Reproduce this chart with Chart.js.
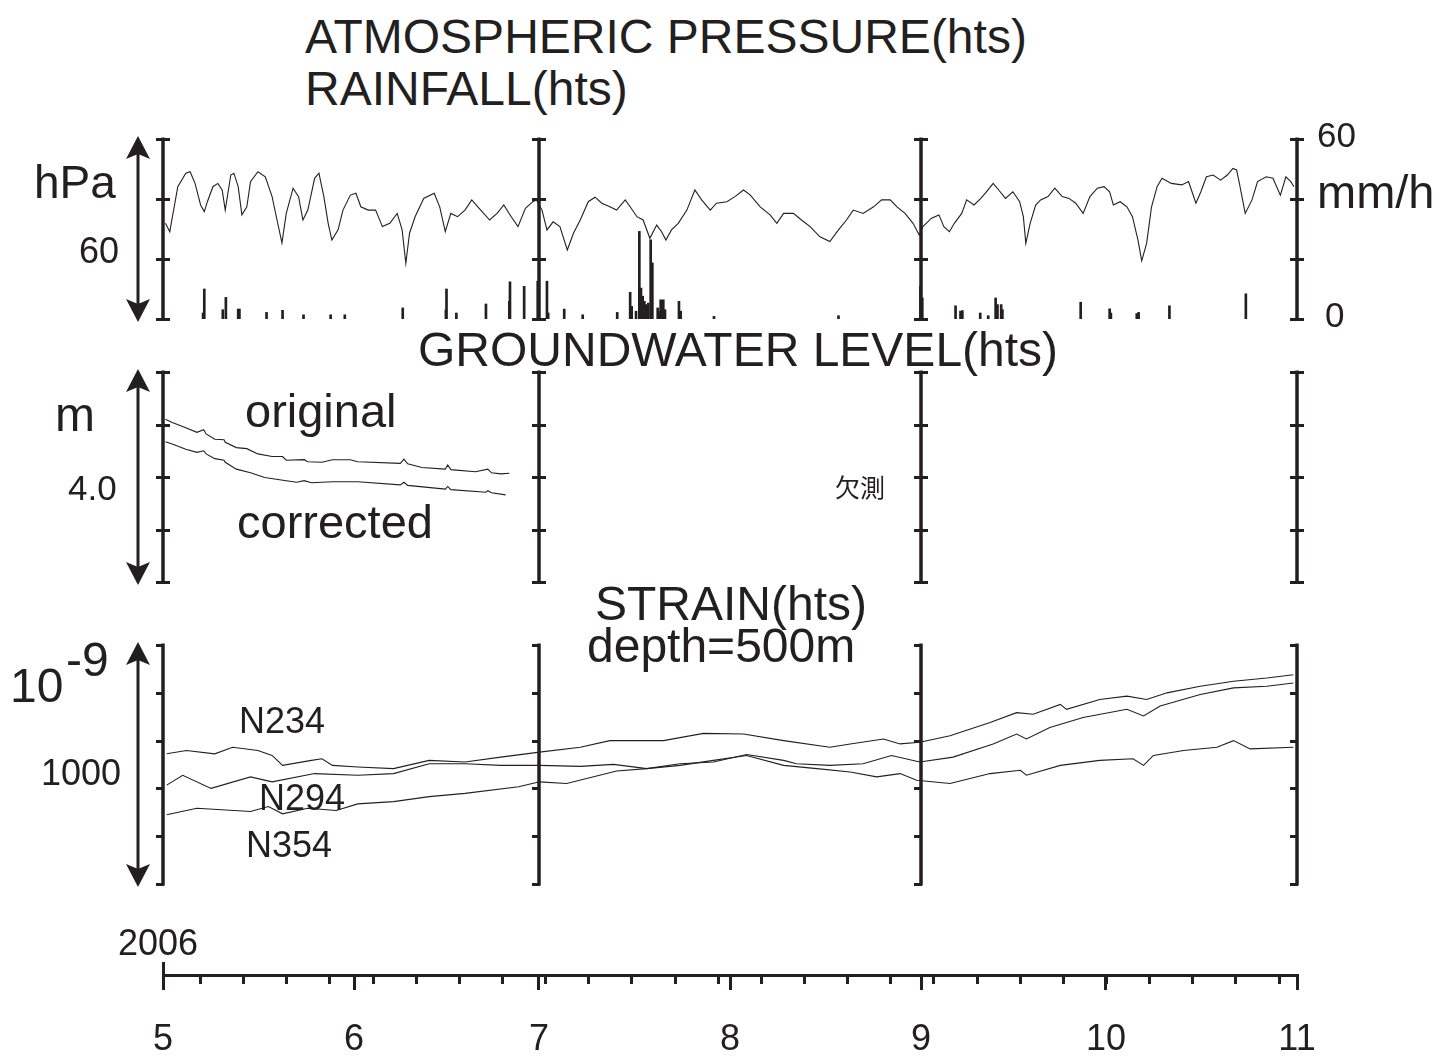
<!DOCTYPE html>
<html><head><meta charset="utf-8">
<title>Atmospheric pressure, rainfall, groundwater level and strain (2006)</title>
<script src="https://cdn.jsdelivr.net/npm/chart.js@4.4.1/dist/chart.umd.min.js"></script>
<style>
html,body{margin:0;padding:0;background:#fff}
#page{position:relative;width:1452px;height:1059px;overflow:hidden;font-family:"Liberation Sans",Arial,Helvetica,sans-serif;color:#231f20}
#page canvas{position:absolute;left:0}
.lbl{position:absolute;white-space:nowrap;line-height:1;color:#231f20}
</style></head><body><div id="page">
<canvas id="cPress" width="1452" height="230" style="top:115px"></canvas>
<canvas id="cWater" width="1452" height="255" style="top:350px"></canvas>
<canvas id="cStrain" width="1452" height="290" style="top:620px"></canvas>
<canvas id="cTime" width="1452" height="159" style="top:900px"></canvas>
</div>
<script>
// ---------- data (x values are days since 2006-05-01) ----------
const monthStartDays = [0, 31, 61, 92, 123, 153, 184];
const monthLabels = ['5', '6', '7', '8', '9', '10', '11'];
const weekTickDays = [6,13,20,27,34,41,48,55,62,69,76,83,90,97,104,111,118,125,132,139,146,153,160,167,174,181];
const panelDividerDays = [0, 61, 123, 184];

const pressureTicks = [980, 1000, 1020, 1040];
const rainTicks = [0, 20, 40, 60];
const waterTicks = [0, 1, 2, 3, 4];
const strainTicks = [0, 200, 400, 600, 800, 1000];

const pressureDays = [0.4,1.1,2.4,3.7,4.4,5.2,6.1,6.7,7.2,8.1,8.9,9.6,10.1,11.0,11.5,12.2,12.8,13.6,14.2,15.4,16.6,17.7,18.5,19.3,20.0,21.1,22.0,22.7,23.5,24.6,25.3,26.1,26.8,27.4,28.4,29.2,30.4,31.3,32.1,33.3,34.5,35.6,36.8,38.0,38.8,39.4,40.0,40.9,42.3,44.0,44.9,45.8,46.7,47.8,49.0,50.1,51.3,53.0,54.2,55.3,56.5,57.6,58.8,60.0,
 60.6,61.5,62.3,63.3,64.4,65.6,66.6,67.7,69.0,70.1,71.2,72.5,73.6,75.0,75.8,76.9,77.9,79.0,80.1,80.9,81.6,82.5,83.6,85.0,86.3,87.4,88.8,89.8,91.5,92.8,94.2,95.3,96.9,98.5,99.6,100.7,102.3,103.6,105.0,106.6,108.2,109.6,110.9,112.0,113.6,115.3,116.6,118.0,119.1,120.4,121.7,
 122.7,123.3,124.7,125.9,126.7,127.6,128.4,129.6,130.4,131.6,132.7,133.6,134.7,135.6,136.7,137.9,139.0,139.6,140.0,140.7,141.6,142.4,143.6,144.7,145.9,147.0,148.1,149.3,150.4,151.6,152.7,153.6,154.2,155.3,156.4,157.3,158.2,158.8,159.6,160.4,161.3,162.1,163.6,165.3,166.4,167.6,168.4,169.3,170.4,171.6,172.7,173.6,174.2,174.7,175.6,176.7,177.6,179.0,180.1,181.3,182.2,183.0,183.5];
const pressureHPa = [1011.9,1009.1,1024.1,1028.6,1029.1,1025.2,1018.0,1015.8,1019.1,1024.1,1025.2,1023.0,1016.3,1028.0,1028.6,1024.1,1014.7,1017.4,1025.8,1029.1,1027.4,1020.8,1013.0,1005.4,1015.2,1023.6,1020.8,1013.0,1016.3,1026.9,1028.6,1020.8,1011.9,1006.3,1009.7,1016.3,1021.3,1021.9,1017.4,1016.3,1016.3,1010.8,1011.9,1015.2,1009.7,998.6,1008.6,1014.1,1020.2,1021.9,1017.4,1009.1,1015.2,1014.1,1016.3,1019.7,1016.9,1013.0,1015.2,1018.0,1014.1,1010.8,1016.9,1019.1,
 1019.7,1016.3,1009.7,1012.4,1010.8,1003.0,1008.6,1013.0,1019.1,1020.6,1018.6,1017.4,1016.3,1019.7,1017.4,1014.1,1013.0,1006.9,1011.3,1009.1,1006.3,1009.7,1011.9,1016.3,1023.0,1019.7,1016.3,1018.6,1019.1,1020.8,1023.0,1021.3,1017.4,1014.7,1011.9,1015.2,1015.2,1013.0,1010.8,1007.4,1005.8,1009.7,1013.0,1016.3,1015.2,1017.4,1019.7,1019.7,1017.4,1015.2,1011.9,
 1008.0,1010.8,1013.6,1014.7,1010.8,1009.1,1011.9,1015.2,1019.7,1018.0,1020.2,1022.4,1025.2,1023.0,1020.2,1022.4,1019.1,1014.1,1005.2,1011.9,1018.0,1019.7,1020.8,1023.6,1020.8,1020.2,1018.6,1015.2,1020.8,1023.6,1024.1,1022.4,1018.0,1019.1,1017.4,1014.1,1006.3,999.4,1005.2,1017.4,1024.1,1026.9,1025.2,1024.7,1025.8,1018.6,1022.4,1027.4,1028.0,1026.3,1028.0,1030.2,1029.7,1024.7,1015.2,1019.7,1025.8,1027.4,1026.9,1021.3,1027.4,1025.8,1024.1];

const rainDays = [6.5,6.7,9.7,10.2,12.2,12.4,16.8,19.4,22.8,27.2,29.5,38.9,45.9,46.0,47.6,52.4,56.2,56.3,58.6,60.8,62.3,62.5,65.1,68.1,73.7,75.8,76.05,76.75,77.29,77.56,77.83,78.1,78.37,78.75,79.13,79.4,80.27,80.53,80.75,80.97,81.18,81.45,83.72,84.0,89.4,109.6,122.9,123.2,128.6,129.4,129.7,132.6,133.9,135.1,135.4,136.0,136.2,148.9,153.6,153.8,158.0,158.3,163.3,175.7];
const rainMmH = [2.0,10.0,3.1,7.2,3.3,3.3,2.2,2.9,1.4,1.4,1.4,3.7,3.0,10.0,2.0,5.0,5.9,12.4,10.9,12.6,12.6,2.0,3.3,1.4,2.2,8.9,4.2,2.6,29.2,10.3,7.6,5.9,4.8,5.3,26.4,18.7,3.7,2.6,6.4,5.9,6.4,3.1,5.9,2.6,0.9,1.1,10.9,7.0,4.4,2.6,2.8,2.0,1.1,7.0,4.8,4.8,3.1,5.6,3.4,2.0,1.8,2.2,4.4,8.4];

const originalDays = [0.4,1.5,3.7,5.5,6.6,7.0,8.4,9.9,10.1,11.9,13.6,15.4,17.7,19.4,20.0,22.9,23.5,25.8,27.5,30.4,31.6,38.5,39.1,39.7,42.0,45.8,46.2,46.7,50.7,52.7,53.3,54.8,56.2];
const originalLevel = [3.10,3.04,2.94,2.85,2.90,2.82,2.72,2.71,2.66,2.56,2.54,2.44,2.39,2.39,2.32,2.33,2.29,2.28,2.33,2.33,2.29,2.26,2.34,2.25,2.18,2.15,2.23,2.14,2.10,2.15,2.08,2.06,2.07];
const correctedDays = [0.4,1.5,3.7,5.5,6.6,7.0,8.4,9.9,10.1,11.9,14.2,16.5,20.0,21.7,22.9,24.1,27.5,31.6,38.5,39.1,39.7,45.8,46.2,46.7,52.4,52.7,53.3,55.6];
const correctedLevel = [2.67,2.63,2.53,2.47,2.50,2.44,2.35,2.32,2.28,2.15,2.08,1.99,1.93,1.90,1.93,1.89,1.91,1.91,1.85,1.90,1.84,1.77,1.82,1.76,1.71,1.74,1.70,1.66];

const n234Days = [0.6,3.8,8.4,11.3,15.4,17.7,19.4,24.1,25.8,27.5,31.6,37.4,43.2,49.0,54.8,61.1,67.7,72.5,81.2,87.7,94.2,100.7,108.2,111.5,116.9,119.6,122.8,127.7,134.2,138.5,141.2,145.6,146.6,152.0,156.4,159.6,162.9,168.3,173.7,179.1,183.4];
const n234 = [544.7,558.5,544.7,572.3,558.5,537.8,496.4,517.1,524.0,496.4,489.5,482.7,517.1,510.2,530.9,551.6,572.3,600.0,600.0,630.2,627.4,600.0,572.3,586.1,606.8,586.1,593.0,620.6,675.7,717.1,710.2,751.6,730.9,772.2,786.0,772.2,799.8,827.4,848.1,861.9,875.7];
const n294Days = [0.6,3.2,7.8,14.2,17.7,24.6,31.6,37.4,43.2,49.0,54.8,61.1,67.7,73.1,78.5,83.9,89.3,94.7,100.7,106.1,111.5,115.8,119.6,122.3,127.7,134.2,139.1,140.1,145.6,152.0,157.4,159.1,160.7,165.6,171.0,173.7,176.4,183.4];
const n294 = [413.7,455.0,400.0,448.2,427.5,462.0,455.0,462.0,503.3,503.3,496.4,496.4,492.3,500.6,482.7,496.4,517.1,537.8,496.4,482.7,468.9,448.2,462.0,434.4,420.6,462.0,475.8,455.1,496.4,517.1,524.0,496.4,537.8,558.5,572.3,599.9,565.4,572.3];
const n354Days = [0.6,5.5,14.2,17.1,19.4,23.5,28.1,31.6,37.4,43.2,49.0,57.7,61.1,65.5,73.6,78.5,83.9,89.3,94.7,100.7,102.8,108.2,113.6,118.2,122.8,128.2,134.7,138.5,140.1,143.9,149.3,156.4,159.1,161.8,168.3,173.7,179.1,183.4];
const n354 = [289.6,317.2,303.4,324.1,293.7,317.2,307.5,335.1,344.8,365.4,379.2,406.8,427.5,420.6,473.0,482.7,503.3,510.2,542.0,517.1,503.3,496.4,503.3,537.8,510.2,530.9,586.1,627.4,606.8,655.0,696.4,730.9,703.3,744.7,792.9,820.5,827.4,841.2];

// ---------- helpers ----------
const INK = '#231f20';
const FONT = '"Liberation Sans", Arial, Helvetica, sans-serif';
const pts = (xs, ys) => xs.map((x, i) => ({ x: x, y: ys[i] }));

const panelFrame = {
  id: 'panelFrame',
  afterDatasetsDraw(chart, args, o) {
    if (!o || !o.ticks) return;
    const ctx = chart.ctx, xs = chart.scales.x, ys = chart.scales[o.scale];
    const yTop = ys.getPixelForValue(ys.max), yBot = ys.getPixelForValue(ys.min);
    ctx.save();
    ctx.strokeStyle = INK; ctx.fillStyle = INK; ctx.lineCap = 'butt';
    panelDividerDays.forEach(d => {
      const x = Math.round(xs.getPixelForValue(d));
      ctx.lineWidth = 3.5;
      ctx.beginPath(); ctx.moveTo(x, yTop - 1.5); ctx.lineTo(x, yBot + 1.5); ctx.stroke();
      ctx.lineWidth = 3;
      o.ticks.forEach(v => {
        const y = Math.round(ys.getPixelForValue(v)) + 0.5;
        const l = x - 7, r = o.style === 'I' ? x + 7 : x + 1;
        ctx.beginPath(); ctx.moveTo(l, y); ctx.lineTo(r, y); ctx.stroke();
      });
    });
    // double-headed scale arrow
    const ax = Math.round(xs.getPixelForValue(xs.min)) - 25;
    ctx.lineWidth = 3;
    ctx.beginPath(); ctx.moveTo(ax, yTop + 12); ctx.lineTo(ax, yBot - 12); ctx.stroke();
    const head = (tip, dir) => {
      ctx.beginPath();
      ctx.moveTo(ax, tip);
      ctx.lineTo(ax - 12, tip + dir * 23);
      ctx.lineTo(ax, tip + dir * 18);
      ctx.lineTo(ax + 12, tip + dir * 23);
      ctx.closePath(); ctx.fill();
    };
    head(yTop - 3, 1); head(yBot + 3, -1);
    ctx.restore();
  }
};

const weekTicks = {
  id: 'weekTicks',
  afterDraw(chart, args, o) {
    if (!o || !o.days) return;
    const ctx = chart.ctx, xs = chart.scales.x, y0 = xs.top;
    ctx.save(); ctx.strokeStyle = INK; ctx.lineWidth = 3;
    o.days.forEach(d => {
      const x = Math.round(xs.getPixelForValue(d)) + 0.5;
      ctx.beginPath(); ctx.moveTo(x, y0); ctx.lineTo(x, y0 + 9); ctx.stroke();
    });
    const x0 = Math.round(xs.getPixelForValue(xs.min)) + 0.5;
    ctx.beginPath(); ctx.moveTo(x0, y0 - 13); ctx.lineTo(x0, y0 + 2); ctx.stroke();
    ctx.restore();
  }
};

function baseOptions(padTop, padBottom) {
  return {
    responsive: false, animation: false, devicePixelRatio: 1, events: [],
    layout: { padding: { left: 163, right: 155, top: padTop, bottom: padBottom } },
    plugins: { legend: { display: false }, tooltip: { enabled: false }, title: { display: false } },
    elements: { point: { radius: 0 }, line: { tension: 0, borderWidth: 1, borderColor: INK } },
    scales: { x: { type: 'linear', min: 0, max: 184, offset: false, display: false } }
  };
}
const lineDs = (label, xs, ys, axis) => ({
  type: 'line', label: label, data: pts(xs, ys), yAxisID: axis,
  borderColor: INK, borderWidth: 1.1, pointRadius: 0, fill: false
});

// ---------- panel 1: pressure + rainfall ----------
const o1 = baseOptions(24, 26);
o1.scales.yP = { type: 'linear', position: 'left', min: 980, max: 1040, display: false };
o1.scales.yR = { type: 'linear', position: 'right', min: 0, max: 60, display: false };
o1.plugins.panelFrame = { scale: 'yP', ticks: pressureTicks, style: 'I' };
new Chart(document.getElementById('cPress'), {
  type: 'line',
  data: { datasets: [
    lineDs('Atmospheric pressure (hPa)', pressureDays, pressureHPa, 'yP'),
    { type: 'bar', label: 'Rainfall (mm/h)', data: pts(rainDays, rainMmH), yAxisID: 'yR',
      backgroundColor: INK, borderWidth: 0, barThickness: 2 }
  ] },
  options: o1, plugins: [panelFrame]
});

// ---------- panel 2: groundwater level ----------
const o2 = baseOptions(22, 23);
o2.scales.y = { type: 'linear', min: 0, max: 4, display: false };
o2.plugins.panelFrame = { scale: 'y', ticks: waterTicks, style: 'I' };
new Chart(document.getElementById('cWater'), {
  type: 'line',
  data: { datasets: [
    lineDs('original', originalDays, originalLevel, 'y'),
    lineDs('corrected', correctedDays, correctedLevel, 'y')
  ] },
  options: o2, plugins: [panelFrame]
});

// ---------- panel 3: strain ----------
const o3 = baseOptions(25, 26);
o3.scales.y = { type: 'linear', min: 0, max: 1000, display: false };
o3.plugins.panelFrame = { scale: 'y', ticks: strainTicks, style: ']' };
new Chart(document.getElementById('cStrain'), {
  type: 'line',
  data: { datasets: [
    lineDs('N234', n234Days, n234, 'y'),
    lineDs('N294', n294Days, n294, 'y'),
    lineDs('N354', n354Days, n354, 'y')
  ] },
  options: o3, plugins: [panelFrame]
});

// ---------- time axis ----------
const o4 = baseOptions(10, 0);
o4.scales.x = {
  type: 'linear', min: 0, max: 184, offset: false, position: 'bottom', display: true,
  afterBuildTicks: s => { s.ticks = monthStartDays.map(v => ({ value: v })); },
  afterFit: s => { s.height = 84; },
  ticks: { autoSkip: false, maxRotation: 0, padding: 28, color: INK,
    font: { family: FONT, size: 36 },
    callback: v => monthLabels[monthStartDays.indexOf(v)] },
  grid: { drawOnChartArea: false, drawTicks: true, tickLength: 15, lineWidth: 3, color: INK },
  border: { display: true, width: 3, color: INK }
};
o4.scales.y = { type: 'linear', min: 0, max: 1, display: false };
o4.plugins.weekTicks = { days: weekTickDays };
new Chart(document.getElementById('cTime'), {
  type: 'line', data: { datasets: [] }, options: o4, plugins: [weekTicks]
});

// ---------- text ----------
const CJK = '"Noto Sans CJK JP", "Noto Sans CJK SC", sans-serif';
const labels = [
  ['ATMOSPHERIC PRESSURE(hts)', 305, 54, 48],
  ['RAINFALL(hts)', 305, 106, 48],
  ['hPa', 34, 198, 46],
  ['60', 79, 263, 36],
  ['60', 1317, 147, 35],
  ['mm/h', 1317, 208, 47],
  ['0', 1325, 327, 35],
  ['GROUNDWATER LEVEL(hts)', 418, 367, 48],
  ['m', 55, 432, 48],
  ['4.0', 68, 500, 35],
  ['original', 245, 427, 47],
  ['corrected', 237, 538, 47],
  ['欠測', 835, 497, 25, CJK],
  ['STRAIN(hts)', 595, 621, 48],
  ['depth=500m', 587, 663, 48],
  ['10', 10, 703, 48],
  ['-9', 66, 677, 48],
  ['1000', 41, 785, 36],
  ['N234', 239, 733, 36],
  ['N294', 259, 810, 36],
  ['N354', 246, 857, 36],
  ['2006', 118, 955, 36]
];
const page = document.getElementById('page');
labels.forEach(([t, x, base, size, fam]) => {
  const d = document.createElement('div');
  d.className = 'lbl';
  d.textContent = t;
  d.style.fontSize = size + 'px';
  if (fam) d.style.fontFamily = fam;
  d.style.left = x + 'px';
  d.style.top = (base - (fam ? 0.936 : 0.8465) * size) + 'px';
  page.appendChild(d);
});
</script>
</body></html>
